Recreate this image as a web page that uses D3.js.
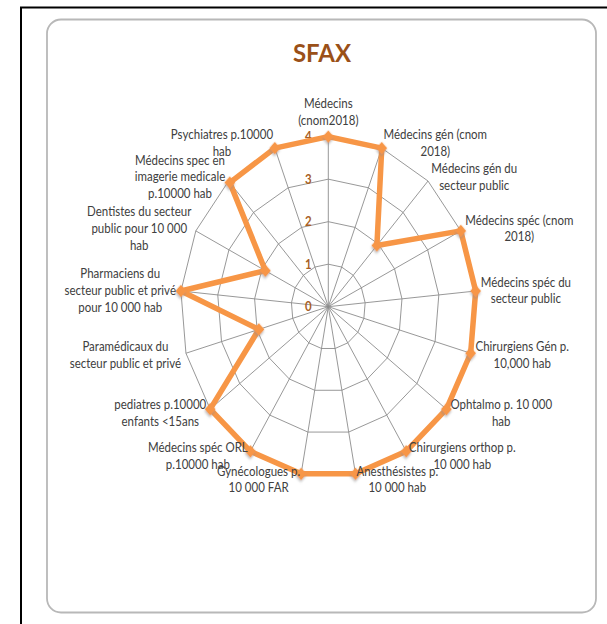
<!DOCTYPE html>
<html>
<head>
<meta charset="utf-8">
<script src="https://cdn.jsdelivr.net/npm/d3@7"></script>
<style>
  body { margin: 0; background: #fff; }
  text { font-family: Lato, "Open Sans", "DejaVu Sans", sans-serif; }
</style>
</head>
<body>
<div id="chart"></div>
<script>

///////////////////////////////////////////////////////////////////////////
///////////////////////////////// Data ////////////////////////////////////
///////////////////////////////////////////////////////////////////////////

var chartTitle = "SFAX"

var categories = [
  "Médecins\n(cnom2018)",
  "Médecins gén (cnom\n2018)",
  "Médecins gén du\nsecteur public",
  "Médecins spéc (cnom\n2018)",
  "Médecins spéc du\nsecteur public",
  "Chirurgiens Gén p.\n10,000 hab",
  "Ophtalmo p. 10 000\nhab",
  "Chirurgiens orthop p.\n10 000 hab",
  "Anesthésistes p.\n10 000 hab",
  "Gynécologues p.\n10 000 FAR",
  "Médecins spéc ORL\np.10000 hab",
  "pediatres p.10000\nenfants <15ans",
  "Paramédicaux du\nsecteur public et privé",
  "Pharmaciens du\nsecteur public et privé\npour 10 000 hab",
  "Dentistes du secteur\npublic pour 10 000\nhab",
  "Médecins spec en\nimagerie medicale\np.10000 hab",
  "Psychiatres p.10000\nhab"
]

var values = [4, 4, 1.95, 4, 4, 4, 4, 4, 4, 4, 4, 4, 1.95, 4, 1.9, 3.95, 4]

var tickValues = [0, 1, 2, 3, 4]

///////////////////////////////////////////////////////////////////////////
///////////////////////////////// Globals /////////////////////////////////
///////////////////////////////////////////////////////////////////////////

var width = 607
var height = 624
var center = {x: 328.3, y: 306.7}
var radius = 148
var stretchY = 1.149        // the picture is taller than wide
var lineStep = 14.5
var orange = "#F79646"
var gridColor = "#8c8c8c"

var svg = d3.select("#chart").append("svg")
    .attr("width", width)
    .attr("height", height)

var defs = svg.append("defs")
defs.append("filter").attr("id", "shadow")
    .attr("x", "-50%").attr("y", "-50%").attr("width", "200%").attr("height", "200%")
  .append("feDropShadow")
    .attr("dx", 1).attr("dy", 1.5).attr("stdDeviation", 1)
    .attr("flood-color", "#888").attr("flood-opacity", 0.55)

//////////////////////////// Frame and card ////////////////////////////////
svg.append("line")
    .attr("x1", 21).attr("y1", 7.5).attr("x2", 21).attr("y2", height)
    .style("stroke", "#000").style("stroke-width", 2)
svg.append("line")
    .attr("x1", 20).attr("y1", 7.5).attr("x2", width).attr("y2", 7.5)
    .style("stroke", "#000").style("stroke-width", 2)

svg.append("rect")
    .attr("x", 47).attr("y", 19.5)
    .attr("width", 549).attr("height", 593)
    .attr("rx", 14).attr("ry", 14)
    .style("fill", "#fff")
    .style("stroke", "#b8b8b8")
    .style("stroke-width", 1.8)

svg.append("text")
    .attr("x", 322).attr("y", 62)
    .attr("text-anchor", "middle")
    .style("font-size", "24px")
    .style("font-weight", "bold")
    .style("fill", "#9a5018")
    .text(chartTitle)

///////////////////////////////////////////////////////////////////////////
///////////////////////////////// Radar ///////////////////////////////////
///////////////////////////////////////////////////////////////////////////

var angle = d3.scaleLinear().domain([0, categories.length]).range([0, 2 * Math.PI])
var r = d3.scaleLinear().domain([0, 4]).range([0, radius])

var g = svg.append("g")
    .attr("transform", "translate(" + center.x + "," + center.y + ") scale(1," + stretchY + ")")

function px(i, v) { return r(v) * Math.sin(angle(i)) }
function py(i, v) { return -r(v) * Math.cos(angle(i)) }

var radial = d3.lineRadial()
    .angle(function (d, i) { return angle(i) })
    .radius(function (d) { return r(d) })
    .curve(d3.curveLinearClosed)

// grid rings
g.append("g").selectAll("path")
    .data(tickValues.slice(1))
  .enter().append("path")
    .attr("d", function (v) { return radial(categories.map(function () { return v })) })
    .attr("vector-effect", "non-scaling-stroke")
    .style("fill", "none")
    .style("stroke", gridColor)
    .style("stroke-width", 0.9)

// spokes
g.append("g").selectAll("line")
    .data(categories)
  .enter().append("line")
    .attr("x1", 0).attr("y1", 0)
    .attr("x2", function (d, i) { return px(i, 4) })
    .attr("y2", function (d, i) { return py(i, 4) })
    .attr("vector-effect", "non-scaling-stroke")
    .style("stroke", gridColor)
    .style("stroke-width", 0.9)

// tick labels
g.append("g").selectAll("text")
    .data(tickValues)
  .enter().append("text")
    .attr("x", -20)
    .attr("y", function (v) { return -r(v) })
    .attr("dy", "0.35em")
    .attr("text-anchor", "middle")
    .style("font-size", "11.5px")
    .style("font-weight", "bold")
    .style("fill", "#a85f26")
    .text(function (v) { return v })

// series line
g.append("path")
    .attr("d", radial(values))
    .attr("vector-effect", "non-scaling-stroke")
    .style("fill", "none")
    .style("stroke", orange)
    .style("stroke-width", 5.5)
    .style("stroke-linejoin", "round")

// markers
g.append("g").selectAll("path")
    .data(values)
  .enter().append("path")
    .attr("d", d3.symbol(d3.symbolSquare, 60))
    .attr("transform", function (d, i) {
      return "translate(" + px(i, d) + "," + py(i, d) + ") rotate(45)" })
    .style("fill", orange)
    .style("filter", "url(#shadow)")

// category labels
var labels = g.append("g").selectAll("g")
    .data(categories)
  .enter().append("g")

labels.each(function (d, i) {
  var lines = d.split("\n")
  var s = Math.sin(angle(i)), c = Math.cos(angle(i))
  var ax = px(i, 4) + 5 * s
  var ay = py(i, 4) - 5 * c
  var n = lines.length
  var cyBlock = ay
  if (Math.abs(s) < 0.1 && c > 0) cyBlock = ay - 2 - n * lineStep / 2

  var t = d3.select(this).append("text")
      .attr("text-anchor", "middle")
      .style("font-size", "11.5px")
      .style("fill", "#404040")
  var spans = t.selectAll("tspan").data(lines).enter().append("tspan")
      .attr("y", function (l, k) { return cyBlock + (k - (n - 1) / 2) * lineStep })
      .attr("dy", "0.35em")
      .text(function (l) { return l })

  var w = 0
  spans.each(function () { w = Math.max(w, this.getComputedTextLength()) })
  var mid = ax
  if (s > 0.1) mid = ax + w / 2
  else if (s < -0.1) mid = ax - w / 2
  spans.attr("x", mid)
})

</script>
</body>
</html>
